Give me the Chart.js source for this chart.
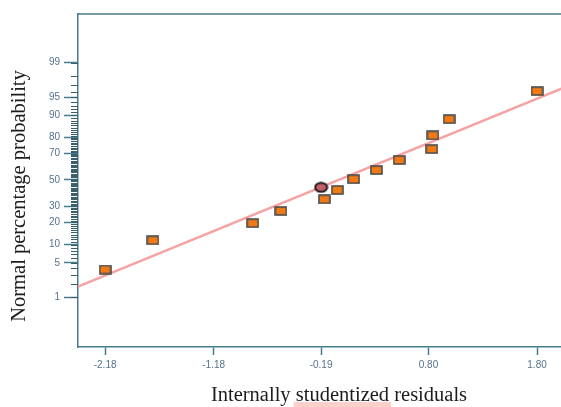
<!DOCTYPE html>
<html lang="en">
<head>
    <meta charset="UTF-8">
    <title>Normal probability plot</title>
    <script src="https://cdnjs.cloudflare.com/ajax/libs/Chart.js/4.4.0/chart.umd.min.js"></script>
    <style>
        html, body {
            margin: 0;
            padding: 0;
            background: #ffffff;
            overflow: hidden;
        }
        .chart-container {
            width: 580px;
            height: 407px;
        }
    </style>
</head>
<body>
    <div class="chart-container">
        <canvas id="chart"></canvas>
    </div>

    <script>
        // Residuals and their normal percentage probabilities
        const residuals = [-2.18, -1.74, -0.82, -0.56, -0.16, -0.04, 0.11, 0.32, 0.53, 0.83, 0.84, 0.99, 1.80];
        const probabilities = [3.8, 11.6, 19.6, 27.0, 35.1, 42.1, 50.6, 57.8, 65.4, 73.0, 81.2, 88.6, 96.1];

        // Selected run (drawn as an ellipse)
        const selectedResidual = [-0.19];
        const selectedProbability = [44.2];

        // Reference line end points
        const lineResiduals = [-2.43, 2.16];
        const lineProbabilities = [1.73, 97.3];

        // Axis ticks
        const xTicks = [-2.18, -1.18, -0.19, 0.80, 1.80];
        const xTickLabels = ["-2.18", "-1.18", "-0.19", "0.80", "1.80"];
        const yTicks = [1, 5, 10, 20, 30, 50, 70, 80, 90, 95, 99];
        const yTickLabels = ["1", "5", "10", "20", "30", "50", "70", "80", "90", "95", "99"];

        const axisColor = "#457d8e";
        const minorColor = "#3b5f6b";
        const labelColor = "#56728c";

        // inverse normal CDF (Acklam), percent in -> z out
        function probit(pct) {
            const p = pct / 100;
            const a = [-3.969683028665376e+01, 2.209460984245205e+02, -2.759285104469687e+02, 1.383577518672690e+02, -3.066479806614716e+01, 2.506628277459239e+00];
            const b = [-5.447609879822406e+01, 1.615858368580409e+02, -1.556989798598866e+02, 6.680131188771972e+01, -1.328068155288572e+01];
            const c = [-7.784894002430293e-03, -3.223964580411365e-01, -2.400758277161838e+00, -2.549732539343734e+00, 4.374664141464968e+00, 2.938163982698783e+00];
            const d = [7.784695709041462e-03, 3.224671290700398e-01, 2.445134137142996e+00, 3.754408661907416e+00];
            const plow = 0.02425;
            let q, r;
            if (p < plow) {
                q = Math.sqrt(-2 * Math.log(p));
                return (((((c[0] * q + c[1]) * q + c[2]) * q + c[3]) * q + c[4]) * q + c[5]) /
                    ((((d[0] * q + d[1]) * q + d[2]) * q + d[3]) * q + 1);
            }
            if (p > 1 - plow) {
                q = Math.sqrt(-2 * Math.log(1 - p));
                return -(((((c[0] * q + c[1]) * q + c[2]) * q + c[3]) * q + c[4]) * q + c[5]) /
                    ((((d[0] * q + d[1]) * q + d[2]) * q + d[3]) * q + 1);
            }
            q = p - 0.5;
            r = q * q;
            return (((((a[0] * r + a[1]) * r + a[2]) * r + a[3]) * r + a[4]) * r + a[5]) * q /
                (((((b[0] * r + b[1]) * r + b[2]) * r + b[3]) * r + b[4]) * r + 1);
        }

        function toPoints(xs, ps) {
            return xs.map((x, i) => ({ x: x, y: probit(ps[i]) }));
        }

        // marker images
        function makeRect() {
            const c = document.createElement("canvas");
            c.width = 13;
            c.height = 10;
            const g = c.getContext("2d");
            g.fillStyle = "#f07a16";
            g.strokeStyle = "#4b4b4b";
            g.lineWidth = 1.6;
            g.fillRect(1, 1, 11, 8);
            g.strokeRect(1, 1, 11, 8);
            return c;
        }

        function makeEllipse() {
            const c = document.createElement("canvas");
            c.width = 15;
            c.height = 12;
            const g = c.getContext("2d");
            g.beginPath();
            g.ellipse(7.5, 6, 6, 4.5, 0, 0, Math.PI * 2);
            g.fillStyle = "#c4606a";
            g.fill();
            g.strokeStyle = "#1a1a1a";
            g.lineWidth = 2;
            g.stroke();
            return c;
        }

        // frame, minor probability ticks and axis titles
        const decorations = {
            id: "decorations",
            afterDraw(chart) {
                const { ctx, chartArea } = chart;
                const yScale = chart.scales.y;
                ctx.save();

                ctx.strokeStyle = axisColor;
                ctx.lineWidth = 1.5;
                ctx.beginPath();
                ctx.moveTo(chartArea.left, chartArea.top);
                ctx.lineTo(chartArea.right, chartArea.top);
                ctx.stroke();

                ctx.strokeStyle = minorColor;
                ctx.lineWidth = 1;
                ctx.beginPath();
                for (let p = 1; p <= 99; p++) {
                    const y = Math.round(yScale.getPixelForValue(probit(p))) + 0.5;
                    ctx.moveTo(chartArea.left - 7, y);
                    ctx.lineTo(chartArea.left, y);
                }
                ctx.stroke();

                ctx.fillStyle = "#1c1c1c";
                ctx.font = "20.5px 'Liberation Serif', 'Times New Roman', serif";
                ctx.textAlign = "center";
                ctx.textBaseline = "middle";

                const xTitle = "Internally studentized residuals";
                const tx = 339, ty = 396;
                const full = ctx.measureText(xTitle).width;
                const pre = ctx.measureText("Internally ").width;
                const word = ctx.measureText("studentized").width;
                ctx.fillStyle = "rgba(246, 170, 160, 0.55)";
                ctx.fillRect(tx - full / 2 + pre - 2, 402, word + 4, 6);
                ctx.fillStyle = "#1c1c1c";
                ctx.fillText(xTitle, tx, ty);

                ctx.translate(20, 196);
                ctx.rotate(-Math.PI / 2);
                ctx.font = "20.5px 'Liberation Serif', 'Times New Roman', serif";
                ctx.fillText("Normal percentage probability", 0, 0);
                ctx.restore();
            }
        };

        const ctx = document.getElementById("chart").getContext("2d");

        new Chart(ctx, {
            type: "scatter",
            data: {
                datasets: [
                    {
                        label: "Selected",
                        data: toPoints(selectedResidual, selectedProbability),
                        pointStyle: makeEllipse(),
                        order: 1
                    },
                    {
                        label: "Residuals",
                        data: toPoints(residuals, probabilities),
                        pointStyle: makeRect(),
                        order: 2
                    },
                    {
                        label: "Normal line",
                        data: toPoints(lineResiduals, lineProbabilities),
                        showLine: true,
                        borderColor: "#f5a3a3",
                        borderWidth: 2.5,
                        pointRadius: 0,
                        order: 3
                    }
                ]
            },
            options: {
                responsive: true,
                maintainAspectRatio: false,
                animation: false,
                events: [],
                layout: {
                    padding: { top: 14, left: 0, right: 2, bottom: 0 }
                },
                plugins: {
                    legend: { display: false },
                    tooltip: { enabled: false }
                },
                scales: {
                    x: {
                        type: "linear",
                        min: -2.43,
                        max: 2.15,
                        afterFit(scale) {
                            scale.height = 60;
                        },
                        afterBuildTicks(scale) {
                            scale.ticks = xTicks.map(v => ({ value: v }));
                        },
                        ticks: {
                            autoSkip: false,
                            maxRotation: 0,
                            padding: 4,
                            color: labelColor,
                            font: { family: "'Liberation Sans', Arial, sans-serif", size: 10 },
                            callback: (v, i) => xTickLabels[i]
                        },
                        grid: {
                            drawOnChartArea: false,
                            tickLength: 8,
                            tickColor: axisColor,
                            tickWidth: 1.5
                        },
                        border: { color: axisColor, width: 1.5 }
                    },
                    y: {
                        type: "linear",
                        min: -3.31,
                        max: 3.29,
                        afterFit(scale) {
                            scale.width = 78;
                        },
                        afterBuildTicks(scale) {
                            scale.ticks = yTicks.map(p => ({ value: probit(p) }));
                        },
                        ticks: {
                            autoSkip: false,
                            padding: 4,
                            color: labelColor,
                            font: { family: "'Liberation Sans', Arial, sans-serif", size: 10 },
                            callback: (v, i) => yTickLabels[i]
                        },
                        grid: {
                            drawOnChartArea: false,
                            tickLength: 14,
                            tickColor: axisColor,
                            tickWidth: 1.5
                        },
                        border: { color: axisColor, width: 1.5 }
                    }
                }
            },
            plugins: [decorations]
        });
    </script>
</body>
</html>
